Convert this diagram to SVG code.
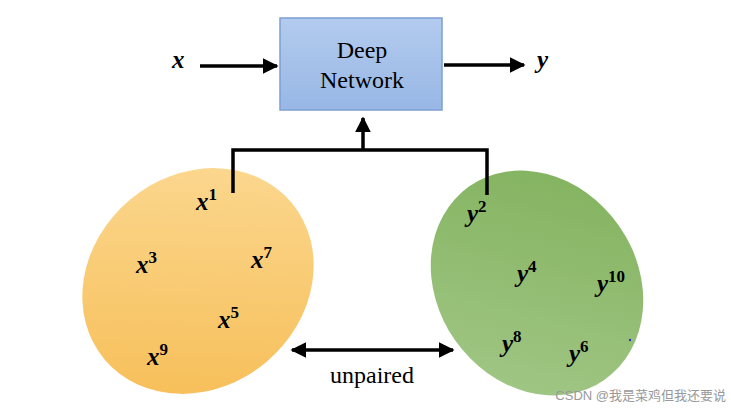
<svg xmlns="http://www.w3.org/2000/svg" width="731" height="412" viewBox="0 0 731 412">
<defs>
<linearGradient id="bl" x1="0" y1="0" x2="0" y2="1"><stop offset="0" stop-color="#b3cbee"/><stop offset="1" stop-color="#98b7e5"/></linearGradient>
<linearGradient id="or" x1="0" y1="1" x2="1" y2="0"><stop offset="0" stop-color="#f6bb50"/><stop offset="1" stop-color="#fcdb98"/></linearGradient>
<linearGradient id="gr" x1="0" y1="0" x2="1" y2="1"><stop offset="0" stop-color="#7fb05a"/><stop offset="1" stop-color="#a5c98a"/></linearGradient>
<marker id="ah" viewBox="0 0 10 10" refX="9" refY="5" markerWidth="4.5" markerHeight="4.5" orient="auto-start-reverse"><path d="M0,0L10,5L0,10z" fill="#000"/></marker>
</defs>
<style>
.v{font-family:"Liberation Serif",serif;font-style:italic;font-weight:bold;font-size:25px}
.s{font-size:17px;font-style:normal}
.t{font-family:"Liberation Serif",serif;font-size:24px}
.c{stroke:#000;stroke-width:3.5;fill:none}
</style>
<rect width="731" height="412" fill="#fff"/>
<g id="orange"><ellipse cx="198" cy="281" rx="122" ry="106" transform="rotate(-40 198 281)" fill="url(#or)"/></g>
<g id="green"><ellipse cx="537" cy="283" rx="118" ry="100" transform="rotate(55 537 283)" fill="url(#gr)"/></g>
<g id="net"><rect x="280" y="18" width="162" height="92" fill="url(#bl)" stroke="#7d9fd3" stroke-width="1.5"/>
<text class="t" x="362" y="58" text-anchor="middle">Deep</text><text class="t" x="362" y="88" text-anchor="middle">Network</text></g>
<g id="connectors">
<line class="c" x1="200" y1="66" x2="277" y2="66" marker-end="url(#ah)"/>
<line class="c" x1="444" y1="65" x2="524" y2="65" marker-end="url(#ah)"/>
<line class="c" x1="363" y1="150" x2="363" y2="118" marker-end="url(#ah)"/>
<polyline class="c" points="233,193 233,150 487,150 487,195"/>
<line class="c" x1="292" y1="350" x2="453" y2="350" marker-start="url(#ah)" marker-end="url(#ah)"/>
</g>
<g id="labels">
<text class="v" x="172" y="68">x</text>
<text class="v" x="537" y="68">y</text>
<text class="v" x="196" y="210">x<tspan class="s" dy="-10">1</tspan></text>
<text class="v" x="136" y="273">x<tspan class="s" dy="-10">3</tspan></text>
<text class="v" x="251" y="268">x<tspan class="s" dy="-10">7</tspan></text>
<text class="v" x="218" y="328">x<tspan class="s" dy="-10">5</tspan></text>
<text class="v" x="147" y="365">x<tspan class="s" dy="-10">9</tspan></text>
<text class="v" x="467" y="222">y<tspan class="s" dy="-10">2</tspan></text>
<text class="v" x="517" y="282">y<tspan class="s" dy="-10">4</tspan></text>
<text class="v" x="597" y="292">y<tspan class="s" dy="-10">10</tspan></text>
<text class="v" x="502" y="352">y<tspan class="s" dy="-10">8</tspan></text>
<text class="v" x="569" y="362">y<tspan class="s" dy="-10">6</tspan></text>
<circle cx="630" cy="340" r="1.2" fill="#33c"/>
<text class="t" x="372" y="383" text-anchor="middle" font-size="22">unpaired</text>
<text x="726" y="400" text-anchor="end" font-family="'Liberation Sans','Noto Sans CJK SC',sans-serif" font-size="13" fill="#999">CSDN @我是菜鸡但我还要说</text>
</g>
</svg>
